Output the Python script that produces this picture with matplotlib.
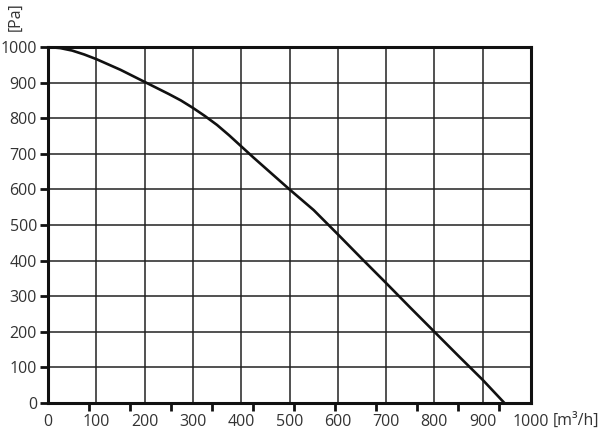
import numpy as np
import matplotlib
matplotlib.use('Agg')
import matplotlib.pyplot as plt
from matplotlib.ticker import FixedLocator

plt.rcParams['font.family'] = ['Open Sans', 'DejaVu Sans']

# fan curve
flow = [0, 25, 50, 75, 100, 150, 200, 250, 275, 300, 325, 350, 375, 400,
        425, 450, 500, 525, 550, 600, 650, 700, 750, 800, 850, 900, 945]
pressure = [1000, 997, 990, 979, 966, 936, 902, 868, 850, 829, 806, 781, 752,
            721, 690, 660, 600, 571, 542, 474, 405, 337, 268, 200, 132, 65, 0]

x_ticks = list(range(0, 1001, 100))
y_ticks = list(range(0, 1001, 100))
cfm_step = 84.95  # 50 CFM in m3/h, small marks under the axis
cfm_ticks = [i * cfm_step for i in range(12)]

text_color = '#333333'

fig = plt.figure(figsize=(6, 4.34), dpi=100)
ax = fig.add_axes([0.08, 0.0714, 0.805, 0.8203])

ax.plot(flow, pressure, color='#111111', linewidth=1.9, zorder=3,
        solid_joinstyle='round')

ax.set_xlim(0, 1000)
ax.set_ylim(0, 1000)
ax.set_xticks(x_ticks)
ax.set_yticks(y_ticks)
ax.xaxis.set_minor_locator(FixedLocator(cfm_ticks))

ax.grid(True, which='major', color='#222222', linewidth=1.1)
ax.set_axisbelow(True)

for s in ax.spines.values():
    s.set_linewidth(2.2)
    s.set_color('#111111')

ax.tick_params(axis='x', which='major', length=0, pad=8, labelsize=11.5, labelcolor=text_color)
ax.tick_params(axis='x', which='minor', length=6, width=2, direction='out', color='#111111')
ax.tick_params(axis='y', which='major', length=6, width=2, direction='out', color='#111111',
               pad=2, labelsize=11.5, labelcolor=text_color)

fig.text(0.012, 0.995, '[Pa]', rotation=90, fontsize=11.5, color=text_color, ha='left', va='top')
fig.text(0.922, 0.03, '[m³/h]', fontsize=11.5, color=text_color, ha='left', va='center')

fig.savefig('out.png', dpi=100)
